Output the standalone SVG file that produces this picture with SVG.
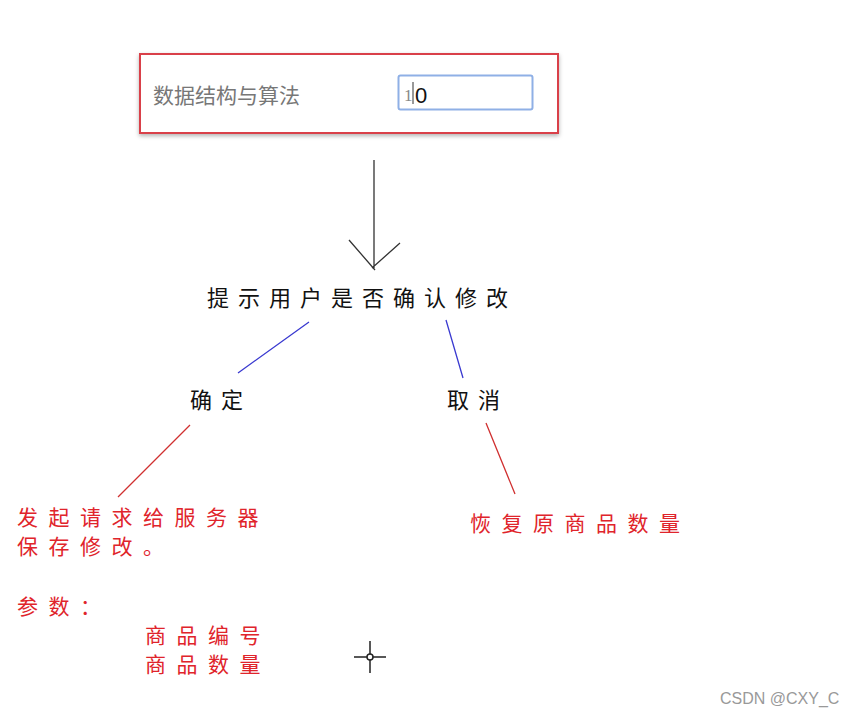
<svg xmlns="http://www.w3.org/2000/svg" width="863" height="719" viewBox="0 0 863 719">
<style>
.cn{font-family:"Noto Sans CJK SC","Noto Sans",sans-serif;font-size:22px;letter-spacing:9px}
.rd{font-family:"Noto Sans CJK SC","Noto Sans",sans-serif;font-size:21px;letter-spacing:10.5px;fill:#e0242b}
.blk{fill:#111}
</style>
<defs><filter id="sh" x="-5%" y="-10%" width="110%" height="130%"><feDropShadow dx="0" dy="2" stdDeviation="2" flood-color="#000" flood-opacity="0.3"/></filter></defs>
<rect width="863" height="719" fill="#fff"/>
<g id="input-box">
<rect x="140" y="54" width="418" height="79" fill="#fff" stroke="#d9404a" stroke-width="2" filter="url(#sh)"/>
<text x="153" y="103" font-family="Noto Sans CJK SC,sans-serif" font-size="21" fill="#777">数据结构与算法</text>
<rect x="398.5" y="75.5" width="134" height="34" rx="2" fill="#fff" stroke="#8fb0e6" stroke-width="2"/>
<text x="404" y="101" font-family="Liberation Serif,serif" font-size="17" fill="#888">1</text>
<line x1="413" y1="82" x2="413" y2="104" stroke="#333" stroke-width="1"/>
<text x="415" y="103" font-family="Liberation Sans,sans-serif" font-size="22" fill="#111">0</text>
</g>
<g id="connectors" fill="none" stroke-width="1.3">
<path d="M374 160V268M349 240L375 270M400 243L372 268" stroke="#333"/>
<path d="M309 322L238 373M446 320L463 378" stroke="#3a3ad0"/>
<path d="M190 425L118 497M486 423L515 494" stroke="#d03030"/>
</g>
<g id="prompt"><text class="cn blk" x="207" y="306">提示用户是否确认修改</text></g>
<g id="confirm"><text class="cn blk" x="190" y="408">确定</text></g>
<g id="cancel"><text class="cn blk" x="447" y="408">取消</text></g>
<g id="save">
<text class="rd" x="17" y="525">发起请求给服务器</text>
<text class="rd" x="17" y="554">保存修改。</text>
<text class="rd" x="17" y="614">参数：</text>
<text class="rd" x="145" y="643">商品编号</text>
<text class="rd" x="145" y="672">商品数量</text>
</g>
<g id="restore"><text class="rd" x="470" y="531">恢复原商品数量</text></g>
<g id="cursor" stroke="#222" stroke-width="1.5" fill="none">
<path d="M370 641V673M354 657H386"/><circle cx="370" cy="657" r="3" fill="#fff"/>
</g>
<text x="720" y="704" font-family="Liberation Sans,sans-serif" font-size="16" fill="#999">CSDN @CXY_C</text>
</svg>
